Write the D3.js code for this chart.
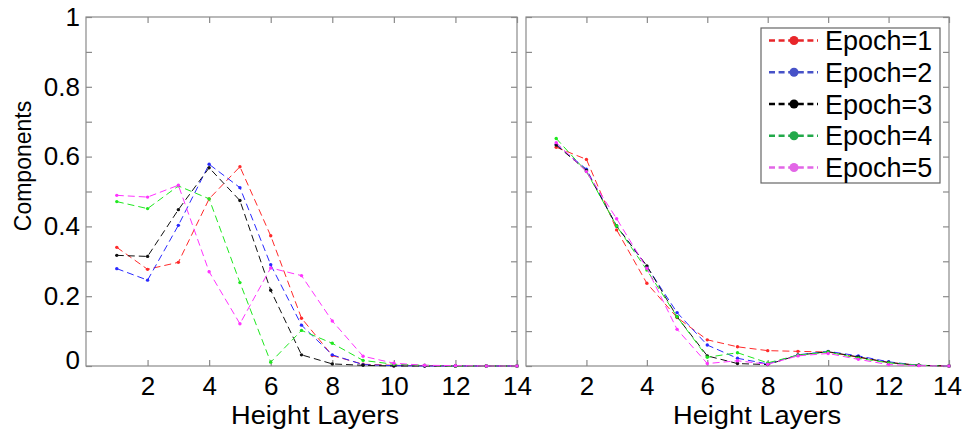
<!DOCTYPE html>
<html>
<head>
<meta charset="utf-8">
<script src="https://cdn.jsdelivr.net/npm/d3@7"></script>
<style>
  html, body { margin: 0; padding: 0; background: #fff; }
  svg { display: block; font-family: "Liberation Sans", Arial, sans-serif; }
</style>
</head>
<body>
<svg id="chart" width="975" height="433"></svg>
<script>
// ---- Data ----
const layers = [1,2,3,4,5,6,7,8,9,10,11,12,13,14];
const seriesNames = ["Epoch=1","Epoch=2","Epoch=3","Epoch=4","Epoch=5"];
const xTickValues = [2,4,6,8,10,12,14];
const yTickValues = [0,0.1,0.2,0.3,0.4,0.5,0.6,0.7,0.8,0.9,1];
const yTickLabels = ["0","","0.2","","0.4","","0.6","","0.8","","1"];

// Left panel
const leftEpoch1 = [0.340,0.277,0.297,0.479,0.571,0.373,0.137,0.030,0.005,0.002,0.001,0,0,0];
const leftEpoch2 = [0.279,0.246,0.403,0.578,0.511,0.290,0.117,0.032,0.004,0.001,0,0,0,0];
const leftEpoch3 = [0.317,0.314,0.448,0.568,0.474,0.217,0.032,0.006,0.002,0,0,0,0,0];
const leftEpoch4 = [0.471,0.451,0.516,0.479,0.239,0.011,0.102,0.065,0.016,0.005,0.002,0,0,0];
const leftEpoch5 = [0.489,0.484,0.518,0.270,0.121,0.281,0.259,0.129,0.028,0.008,0.002,0.001,0,0];

// Right panel
const rightEpoch1 = [0.627,0.592,0.390,0.237,0.139,0.075,0.055,0.044,0.042,0.040,0.025,0.010,0.002,0];
const rightEpoch2 = [0.635,0.564,0.401,0.285,0.153,0.060,0.022,0.006,0.032,0.042,0.029,0.012,0.002,0];
const rightEpoch3 = [0.633,0.560,0.401,0.287,0.141,0.029,0.007,0.004,0.031,0.041,0.026,0.010,0.002,0];
const rightEpoch4 = [0.652,0.557,0.401,0.275,0.141,0.025,0.038,0.009,0.031,0.040,0.022,0.009,0.002,0];
const rightEpoch5 = [0.640,0.557,0.422,0.280,0.105,0.007,0.015,0.005,0.029,0.036,0.019,0.004,0.001,0];

const lineColors = ["#ff2a2a","#2a2aff","#111111","#1fe81f","#ff33ff"];
const legendColors = ["#e8262a","#4752c8","#000000","#22a94a","#e266e6"];

// ---- Layout ----
const svg = d3.select("#chart");
const yScale = d3.scaleLinear().domain([0,1]).range([366,17]);
const panels = [
  { x: d3.scaleLinear().domain([0,14]).range([86,517]), series: [leftEpoch1,leftEpoch2,leftEpoch3,leftEpoch4,leftEpoch5], yLabels: true, xLabelX: 315 },
  { x: d3.scaleLinear().domain([0,14]).range([526,949]), series: [rightEpoch1,rightEpoch2,rightEpoch3,rightEpoch4,rightEpoch5], yLabels: false, xLabelX: 757 }
];

const axisColor = "#8a8a8a";

panels.forEach(p => {
  const g = svg.append("g");
  const [x0, x1] = p.x.range();
  const [y0, y1] = [yScale(1), yScale(0)];

  g.append("rect").attr("x", x0).attr("y", y0).attr("width", x1 - x0).attr("height", y1 - y0)
    .attr("fill", "#fff").attr("stroke", axisColor).attr("stroke-width", 1.2);

  const bottom = g.append("g").attr("transform", `translate(0,${y1})`)
    .call(d3.axisBottom(p.x).tickValues(xTickValues).tickSizeInner(-6).tickSizeOuter(0).tickPadding(11));
  const top = g.append("g").attr("transform", `translate(0,${y0})`)
    .call(d3.axisTop(p.x).tickValues(xTickValues).tickSizeInner(-6).tickSizeOuter(0).tickFormat(""));
  const left = g.append("g").attr("transform", `translate(${x0},0)`)
    .call(d3.axisLeft(yScale).tickValues(yTickValues).tickSizeInner(-6).tickSizeOuter(0).tickPadding(6)
      .tickFormat((d,i) => p.yLabels ? yTickLabels[i] : ""));
  const right = g.append("g").attr("transform", `translate(${x1},0)`)
    .call(d3.axisRight(yScale).tickValues(yTickValues).tickSizeInner(-6).tickSizeOuter(0).tickFormat(""));

  [bottom, top, left, right].forEach(a => {
    a.select(".domain").remove();
    a.selectAll(".tick line").attr("stroke", axisColor).attr("stroke-width", 1.2);
    a.selectAll(".tick text").attr("fill", "#000").style("font-size", "26px")
      .style("font-family", "'Liberation Sans', Arial, sans-serif");
  });
  left.selectAll(".tick text").filter(d => d === 0).attr("dy", "0.1em");
  bottom.selectAll(".tick text").filter(d => d === 14 && !p.yLabels).attr("dx", "-2");

  g.append("text").attr("x", p.xLabelX).attr("y", 424).attr("text-anchor", "middle")
    .style("font-size", "25px").attr("fill", "#000")
    .attr("textLength", 168).attr("lengthAdjust", "spacingAndGlyphs").text("Height Layers");

  const line = d3.line().x((d,i) => p.x(layers[i])).y(d => yScale(d));
  p.series.forEach((vals, si) => {
    g.append("path").datum(vals).attr("d", line)
      .attr("fill", "none").attr("stroke", lineColors[si]).attr("stroke-width", 1)
      .attr("stroke-dasharray", "7,4");
    g.selectAll(null).data(vals).join("circle")
      .attr("cx", (d,i) => p.x(layers[i])).attr("cy", d => yScale(d))
      .attr("r", 1.7).attr("fill", lineColors[si]);
  });
});

svg.append("text").attr("transform", "translate(31,166) rotate(-90)")
  .attr("text-anchor", "middle").style("font-size", "23px").attr("fill", "#000").text("Components");

const lg = svg.append("g");
lg.append("rect").attr("x", 761).attr("y", 28).attr("width", 179).attr("height", 155)
  .attr("fill", "#fff").attr("stroke", "#666").attr("stroke-width", 1.2);
const legendY = d3.scalePoint().domain(seriesNames).range([40.5, 167.5]);
seriesNames.forEach((name, i) => {
  const yy = legendY(name);
  lg.append("line").attr("x1", 769).attr("x2", 818).attr("y1", yy).attr("y2", yy)
    .attr("stroke", legendColors[i]).attr("stroke-width", 2.6).attr("stroke-dasharray", "6,3.6");
  lg.append("circle").attr("cx", 794).attr("cy", yy).attr("r", 4.5).attr("fill", legendColors[i]);
  lg.append("text").attr("x", 825).attr("y", yy).attr("dy", "0.36em")
    .style("font-size", "27px").attr("fill", "#000").text(name);
});
</script>
</body>
</html>
